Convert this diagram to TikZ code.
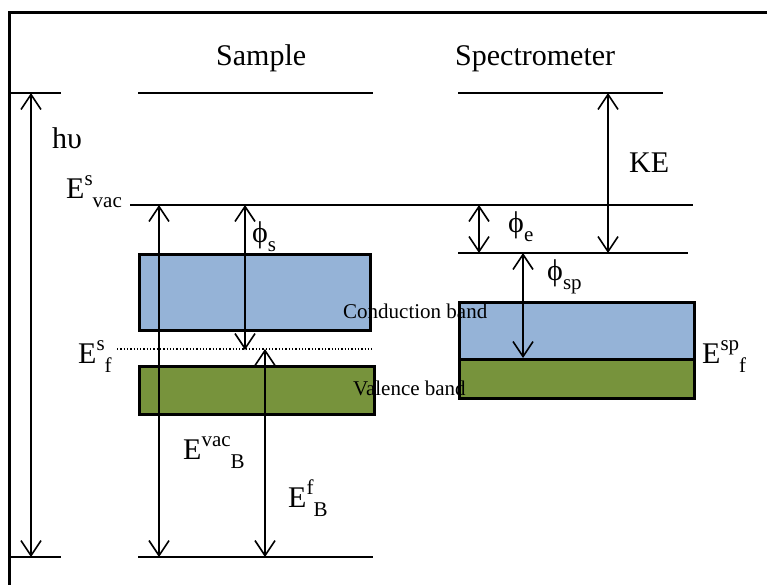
\documentclass[tikz,border=0pt]{standalone}
\usepackage{fontspec}
\setmainfont{Liberation Serif}
\usetikzlibrary{arrows.meta}
\definecolor{cbblue}{HTML}{95B3D7}
\definecolor{vbgreen}{HTML}{77933C}
\newcommand\mysup[1]{\raisebox{0.42em}{\fontsize{21}{21}\selectfont #1}}
\newcommand\mysub[1]{\raisebox{-0.3em}{\fontsize{21}{21}\selectfont #1}}
\begin{document}
\begin{tikzpicture}[x=1pt,y=-1pt,
  level/.style={line width=1.8pt},
  frameline/.style={line width=3pt},
  bandbox/.style={draw=black,line width=2.6pt},
  dbl/.style={line width=1.6pt,{Straight Barb[length=15pt,width=20pt]}-{Straight Barb[length=15pt,width=20pt]}},
  bigtxt/.style={font=\fontsize{30}{30}\selectfont,inner sep=0pt,anchor=base west},
  bandtxt/.style={font=\fontsize{21}{21}\selectfont,inner sep=0pt,anchor=base west}]
\useasboundingbox (0,0) rectangle (767,584);
% frame
\draw[frameline] (769,12) -- (9,12) -- (9,586);
% levels
\coordinate (tl1) at (10,93); \coordinate (tl2) at (61,93);
\coordinate (ts1) at (138,93); \coordinate (ts2) at (373,93);
\coordinate (tp1) at (458,93); \coordinate (tp2) at (663,93);
\coordinate (v1) at (130,205); \coordinate (v2) at (693,205);
\coordinate (sv1) at (458,253); \coordinate (sv2) at (688,253);
\coordinate (f1) at (117,349); \coordinate (f2) at (373,349);
\coordinate (bl1) at (10,557); \coordinate (bl2) at (61,557);
\coordinate (bs1) at (138,557); \coordinate (bs2) at (373,557);
\draw[level] (tl1) -- (tl2);
\draw[level] (ts1) -- (ts2);
\draw[level] (tp1) -- (tp2);
\draw[level] (v1) -- (v2);
\draw[level] (sv1) -- (sv2);
\draw[line width=1.3pt,dotted] (f1) -- (f2);
\draw[level] (bl1) -- (bl2);
\draw[level] (bs1) -- (bs2);
% bands
\node[bandbox,fill=cbblue,minimum width=231pt,minimum height=76pt,inner sep=0pt,anchor=north west] (scb) at (138,253) {};
\node[bandbox,fill=vbgreen,minimum width=235pt,minimum height=48pt,inner sep=0pt,anchor=north west] (svb) at (138,365) {};
\node[bandbox,fill=cbblue,minimum width=235pt,minimum height=57pt,inner sep=0pt,anchor=north west] (pcb) at (458,301) {};
\node[bandbox,fill=vbgreen,minimum width=235pt,minimum height=39pt,inner sep=0pt,anchor=north west] (pvb) at (458,358) {};
\node[bandtxt] (cbt) at (343,318) {Conduction band};
\node[bandtxt] (vbt) at (353,395) {Valence band};
% arrow end points
\coordinate (hn1) at (31,93); \coordinate (hn2) at (31,557);
\coordinate (ev1) at (159,205); \coordinate (ev2) at (159,557);
\coordinate (ps1) at (245,205); \coordinate (ps2) at (245,350);
\coordinate (ef1) at (265,349); \coordinate (ef2) at (265,557);
\coordinate (pe1) at (479,205); \coordinate (pe2) at (479,253);
\coordinate (ke1) at (608,93); \coordinate (ke2) at (608,253);
\coordinate (pp1) at (523,253); \coordinate (pp2) at (523,358);
\draw[dbl] (hn1) -- (hn2);
\draw[dbl] (ev1) -- (ev2);
\draw[dbl] (ps1) -- (ps2);
\draw[dbl] (ef1) -- (ef2);
\draw[dbl] (pe1) -- (pe2);
\draw[dbl] (ke1) -- (ke2);
\draw[dbl] (pp1) -- (pp2);
% labels
\node[bigtxt] (sam) at (216,65) {Sample};
\node[bigtxt] (spe) at (455,65) {Spectrometer};
\node[bigtxt] (hnu) at (52,148) {hυ};
\node[bigtxt] (ke) at (629,172) {KE};
\node[bigtxt] (esv) at (66,198) {E\mysup{s}\mysub{vac}};
\node[bigtxt] (esf) at (78,363) {E\mysup{s}\mysub{f}};
\node[bigtxt] (evb) at (183,459) {E\mysup{vac}\mysub{B}};
\node[bigtxt] (efb) at (288,507) {E\mysup{f}\mysub{B}};
\node[bigtxt] (espf) at (702,363) {E\mysup{sp}\mysub{f}};
\node[bigtxt] (phis) at (252,242) {ϕ\mysub{s}};
\node[bigtxt] (phie) at (508,232) {ϕ\mysub{e}};
\node[bigtxt] (phisp) at (547,280) {ϕ\mysub{sp}};
\end{tikzpicture}
\end{document}
